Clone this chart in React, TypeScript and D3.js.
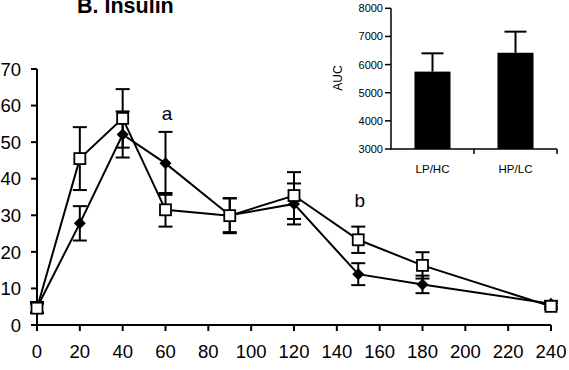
import React from "react";
import * as d3 from "d3";

const times = [0, 20, 40, 60, 90, 120, 150, 180, 240];
const squareVals = [4.6, 45.5, 56.5, 31.5, 29.9, 35.4, 23.3, 16.3, 5.1];
const squareErr = [1.2, 8.6, 8.0, 4.6, 4.8, 6.4, 3.6, 3.6, 0.8];
const diamondVals = [4.8, 27.8, 52.1, 44.2, 30.0, 33.1, 13.9, 11.1, 5.8];
const diamondErr = [1.5, 4.7, 6.3, 8.6, 4.6, 5.6, 3.0, 2.4, 0.8];
const xTicks = [0, 20, 40, 60, 80, 100, 120, 140, 160, 180, 200, 220, 240];
const yTicks = [0, 10, 20, 30, 40, 50, 60, 70];

const aucCats = ["LP/HC", "HP/LC"];
const aucVals = [5750, 6420];
const aucErr = [650, 750];
const aucTicks = [3000, 4000, 5000, 6000, 7000, 8000];

const annotations = [
  { t: 60, v: 56, label: "a" },
  { t: 150, v: 32.3, label: "b" },
];

const FONT = "'Liberation Sans', Arial, sans-serif";

export default function App() {
  const x = d3.scaleLinear().domain([0, 240]).range([37, 551]);
  const y = d3.scaleLinear().domain([0, 70]).range([325, 69]);

  const line = d3
    .line<number>()
    .x((_, i) => x(times[i]))
    .y((d) => y(d));

  const xi = d3
    .scaleBand<string>()
    .domain(aucCats)
    .range([391, 557])
    .paddingInner(0.566)
    .paddingOuter(0.283);
  const yi = d3.scaleLinear().domain([3000, 8000]).range([149, 8.3]);

  const cap = 7;
  const errBars = (vals: number[], errs: number[], key: string) =>
    vals.map((v, i) => {
      const cx = x(times[i]);
      const y1 = y(v + errs[i]);
      const y2 = y(v - errs[i]);
      return (
        <g key={key + i} stroke="#000" strokeWidth={2}>
          <line x1={cx} x2={cx} y1={y1} y2={y2} />
          <line x1={cx - cap} x2={cx + cap} y1={y1} y2={y1} />
          <line x1={cx - cap} x2={cx + cap} y1={y2} y2={y2} />
        </g>
      );
    });

  const diamond = d3.symbol(d3.symbolDiamond2, 92)();

  return (
    <svg
      width={569}
      height={370}
      style={{ position: "absolute", left: 0, top: 0, background: "#fff" }}
      fontFamily={FONT}
    >
      <rect width={569} height={370} fill="#fff" />
      <text x={77} y={13} fontSize={21.5} fontWeight="bold">
        B. Insulin
      </text>

      {/* main axes */}
      <g stroke="#000" strokeWidth={2}>
        <line x1={x(0)} x2={x(0)} y1={y(70)} y2={y(0)} />
        <line x1={x(0)} x2={x(240)} y1={y(0)} y2={y(0)} />
        {yTicks.map((t) => (
          <line key={"yt" + t} x1={x(0) - 6} x2={x(0)} y1={y(t)} y2={y(t)} />
        ))}
        {xTicks.map((t) => (
          <line key={"xt" + t} x1={x(t)} x2={x(t)} y1={y(0)} y2={y(0) + 6} />
        ))}
      </g>
      {yTicks.map((t) => (
        <text
          key={"yl" + t}
          x={21}
          y={y(t)}
          dy="0.36em"
          textAnchor="end"
          fontSize={18.5}
        >
          {t}
        </text>
      ))}
      {xTicks.map((t) => (
        <text key={"xl" + t} x={x(t)} y={358} textAnchor="middle" fontSize={18.5}>
          {t}
        </text>
      ))}

      {/* error bars */}
      {errBars(diamondVals, diamondErr, "de")}
      {errBars(squareVals, squareErr, "se")}

      {/* lines */}
      <path d={line(diamondVals) || ""} fill="none" stroke="#000" strokeWidth={2} />
      <path d={line(squareVals) || ""} fill="none" stroke="#000" strokeWidth={2} />

      {/* markers */}
      {diamondVals.map((v, i) => (
        <path
          key={"dm" + i}
          d={diamond || ""}
          transform={`translate(${x(times[i])},${y(v)})`}
          fill="#000"
        />
      ))}
      {squareVals.map((v, i) => (
        <rect
          key={"sm" + i}
          x={x(times[i]) - 5.5}
          y={y(v) - 5.5}
          width={11}
          height={11}
          fill="#fff"
          stroke="#000"
          strokeWidth={1.8}
        />
      ))}

      {annotations.map((a) => (
        <text
          key={a.label}
          x={x(a.t) + 1.5}
          y={y(a.v)}
          textAnchor="middle"
          fontSize={19}
        >
          {a.label}
        </text>
      ))}

      {/* inset */}
      {aucCats.map((c, i) => {
        const bx = xi(c) as number;
        const bw = xi.bandwidth();
        const cx = bx + bw / 2;
        return (
          <g key={"bar" + c}>
            <rect
              x={bx}
              y={yi(aucVals[i])}
              width={bw}
              height={yi(3000) - yi(aucVals[i])}
              fill="#000"
            />
            <line
              x1={cx}
              x2={cx}
              y1={yi(aucVals[i])}
              y2={yi(aucVals[i] + aucErr[i])}
              stroke="#000"
              strokeWidth={2}
            />
            <line
              x1={cx - 11}
              x2={cx + 11}
              y1={yi(aucVals[i] + aucErr[i])}
              y2={yi(aucVals[i] + aucErr[i])}
              stroke="#000"
              strokeWidth={2}
            />
            <text x={cx} y={173} textAnchor="middle" fontSize={11.5}>
              {c}
            </text>
          </g>
        );
      })}
      <g stroke="#000" strokeWidth={1.5}>
        <line x1={391} x2={391} y1={yi(8000)} y2={yi(3000) + 1} />
        <line x1={391} x2={557} y1={yi(3000)} y2={yi(3000)} />
        {aucTicks.map((t) => (
          <line key={"it" + t} x1={385} x2={391} y1={yi(t)} y2={yi(t)} />
        ))}
        {[474, 557].map((tx) => (
          <line key={"ix" + tx} x1={tx} x2={tx} y1={yi(3000)} y2={yi(3000) + 5} />
        ))}
      </g>
      {aucTicks.map((t) => (
        <text
          key={"il" + t}
          x={383}
          y={yi(t)}
          dy="0.36em"
          textAnchor="end"
          fontSize={11}
        >
          {t}
        </text>
      ))}
      <text
        transform="translate(342,78) rotate(-90)"
        textAnchor="middle"
        fontSize={12}
      >
        AUC
      </text>
    </svg>
  );
}
